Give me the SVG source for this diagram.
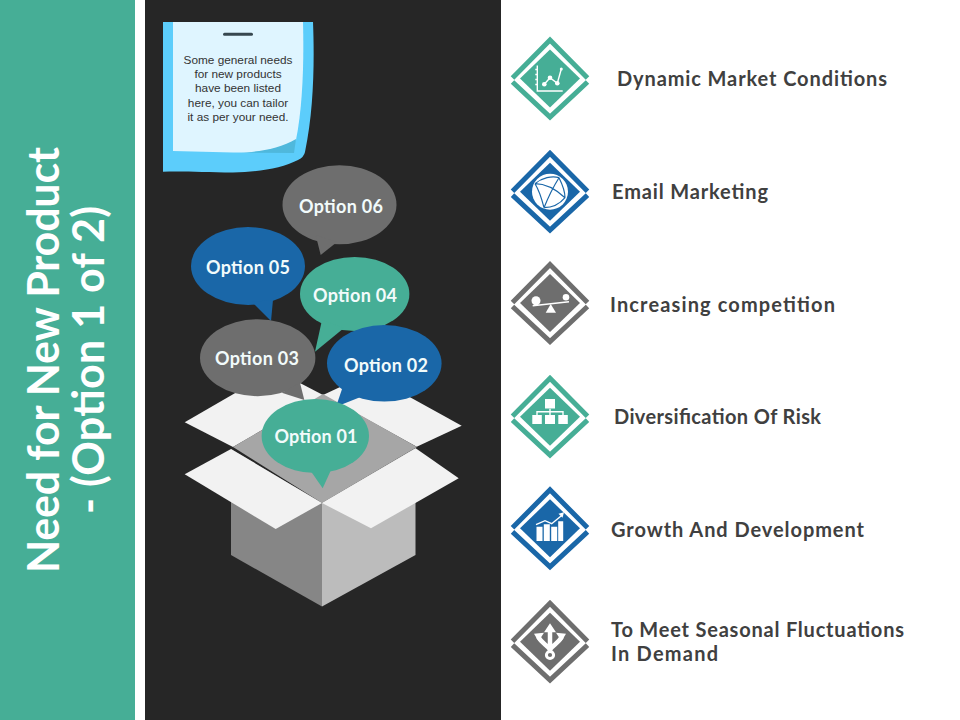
<svg xmlns="http://www.w3.org/2000/svg" xmlns:xlink="http://www.w3.org/1999/xlink" width="960" height="720" viewBox="0 0 960 720">
<style>
.teal{color:#46ae96;fill:#46ae96}
.blue{color:#1a67a8;fill:#1a67a8}
.grey{color:#6e6e6e;fill:#6e6e6e}
.opt{font:bold 18px Lato,"Liberation Sans",sans-serif;fill:#f2fbfb;text-anchor:middle}
.lab{font:bold 20px Lato,"Liberation Sans",sans-serif;fill:#404040}
.title{font:bold 43px Lato,"Liberation Sans",sans-serif;fill:#fff;text-anchor:middle}
.note{font:11.800px "Liberation Sans",Arial,sans-serif;fill:#333;text-anchor:middle}
.ring{fill:none;stroke:currentColor;stroke-width:5}
.wl{fill:none;stroke:#fff;stroke-width:1.400}
.wt{fill:none;stroke:#fff;stroke-width:4.500}
.w{fill:#fff}
.flap{fill:#f2f2f2}
</style>
<defs>
<g id="dia">
<path class="ring" d="M-37.500-.5 0-38.500 37.500-.5"/>
<path class="ring" d="M-37.500 3.500 0 38.500 37.500 3.500"/>
<path d="M0-29 30 0 0 29-30 0Z" fill="currentColor"/>
</g>
</defs>
<rect width="960" height="720" fill="#fff"/>
<rect width="135" height="720" fill="#46ae96"/>
<rect x="145" width="356" height="720" fill="#262626"/>
<g id="title" transform="translate(0,360) rotate(-90)">
<text class="title" x="0" y="59" textLength="426" lengthAdjust="spacing">Need for New Product</text>
<text class="title" x="0" y="104" textLength="308" lengthAdjust="spacing">- (Option 1 of 2)</text>
</g>
<g id="note">
<path d="M163 22H313C314.500 60 314 110 305 152Q304 157 298 160C282 168 260 172 233 172.500C205 172.500 185 171 163 171.700Z" fill="#5ccdfb"/>
<path d="M173 22H303C304 60 303 105 296 140C280 150 255 153 233 152.500L173 151Z" fill="#dff5ff"/>
<path d="M296 139C280 149 255 152.500 240 152.500L294 153Z" fill="#4fb8dc"/>
<rect x="223" y="32.800" width="30" height="3" rx="1.500" fill="#37474f"/>
<text class="note" x="238" y="64">Some general needs</text>
<text class="note" x="238" y="78">for new products</text>
<text class="note" x="238" y="92">have been listed</text>
<text class="note" x="238" y="107">here, you can tailor</text>
<text class="note" x="238" y="121">it as per your need.</text>
</g>
<g id="box">
<path d="M231 449 322 503V606.500L231 555Z" fill="#868686"/>
<path d="M322 503 415.500 448V555L322 606.500Z" fill="#bcbcbc"/>
<path class="flap" d="M184.700 422.300 275 370 323 395 233 447Z"/>
<path class="flap" d="M461.700 425.700 416.700 446.700 323 395 368 374Z"/>
<path d="M233 447 323 394 417 447 322 503Z" fill="#a6a6a6"/>
<path class="flap" d="M184.700 474.300 231 449 322 503 275.700 529Z"/>
<path class="flap" d="M322 503 415.700 448.300 458.700 478.300 371 528.300Z"/>
</g>
<g id="option-06" class="grey"><ellipse cx="339.500" cy="204.700" rx="57" ry="39.500"/><path d="M315.700 235 320.700 255 337 242Z"/><text class="opt" x="341" y="213" textLength="84">Option 06</text></g>
<g id="option-05" class="blue"><ellipse cx="248" cy="266" rx="57" ry="39"/><path d="M252 302 271 321 273 300Z"/><text class="opt" x="248" y="274" textLength="84">Option 05</text></g>
<g id="option-04" class="teal"><ellipse cx="354.700" cy="294" rx="54.700" ry="37"/><path d="M322 320 315 351.700 344 328Z"/><text class="opt" x="355" y="302" textLength="84">Option 04</text></g>
<g id="option-03" class="grey"><ellipse cx="257.700" cy="357.700" rx="57.700" ry="38.500"/><path d="M281.700 392.700 300 382.700 304.300 400Z"/><text class="opt" x="257" y="365" textLength="84">Option 03</text></g>
<g id="option-02" class="blue"><ellipse cx="384.300" cy="363.300" rx="57.300" ry="38.300"/><path d="M342.300 388.300 360 397.300 336 406.700Z"/><text class="opt" x="386" y="372" textLength="84">Option 02</text></g>
<g id="option-01" class="teal"><ellipse cx="315.300" cy="436" rx="53.700" ry="37"/><path d="M310 470 331 470 322.700 488.300Z"/><text class="opt" x="316" y="443" textLength="83">Option 01</text></g>

<g id="item-1" class="teal" transform="translate(550,78.500)">
<use xlink:href="#dia" href="#dia"/>
<path class="wl" d="M-12.700-13V12.500H12.700M-14.700-9H-12.700M-14.700-4H-12.700M-14.700 1H-12.700M-14.700 6H-12.700"/>
<path class="wl" d="M-5.700 5.800 0-.8 7.300 4.800 11.300-9.500"/>
<circle class="w" cx="-5.700" cy="5.800" r="2.300"/><circle class="w" cx="0" cy="-.8" r="2.300"/><circle class="w" cx="7.300" cy="4.800" r="2.300"/><circle class="w" cx="11.300" cy="-9.500" r="1.500"/>
</g>
<text class="lab" x="617" y="86" textLength="270">Dynamic Market Conditions</text>

<g id="item-2" class="blue" transform="translate(550,191.700)">
<use xlink:href="#dia" href="#dia"/>
<circle class="w" r="18"/>
<path d="M-15-8C-8-14 2-16 9-14M-15-8C-10 0-8 8-6 16M-15-8C-6-8 4-4 15 6M9-14C4-6-2 6-6 16M9-14C12-8 15-2 15 6M-6 16C2 16 10 12 15 6" fill="none" stroke="#1a67a8" stroke-width="1.200"/>
</g>
<text class="lab" x="612" y="199" textLength="156">Email Marketing</text>

<g id="item-3" class="grey" transform="translate(550,303)">
<use xlink:href="#dia" href="#dia"/>
<circle class="w" cx="-14" cy="-2.300" r="4.500"/><circle class="w" cx="16" cy="-5.700" r="3.300"/>
<path class="wl" d="M-17.300 2.700 19-1.300"/>
<path class="w" d="M.7 1-4.300 9.700H6Z"/>
</g>
<text class="lab" x="610" y="312" textLength="225">Increasing competition</text>

<g id="item-4" class="teal" transform="translate(550,416.700)">
<use xlink:href="#dia" href="#dia"/>
<rect class="w" x="-5" y="-17.700" width="10" height="9.500"/>
<rect class="w" x="-17.700" y="-1.700" width="9.500" height="9"/><rect class="w" x="-5" y="-1.700" width="10" height="9"/><rect class="w" x="8.300" y="-1.700" width="9.500" height="9"/>
<path class="wl" d="M0-8V-1.700M-13-1.700V-5H13V-1.700"/>
</g>
<text class="lab" x="614" y="424" textLength="207">Diversification Of Risk</text>

<g id="item-5" class="blue" transform="translate(550,528.300)">
<use xlink:href="#dia" href="#dia"/>
<path class="w" d="M-13.500-1.500H-7.500V12.700H-13.500ZM-6.200-4H-.2V12.700H-6.200ZM1.200-1.500H7.200V12.700H1.200ZM8.200-7H13.200V12.700H8.200Z"/>
<path class="wl" d="M-14-3.600-5-7.600 1.700-4.600 12-13"/>
<path class="w" d="M14-16 8.500-14.500 12.500-10.500Z"/>
</g>
<text class="lab" x="611" y="537" textLength="253">Growth And Development</text>

<g id="item-6" class="grey" transform="translate(550,641.700)">
<use xlink:href="#dia" href="#dia"/>
<path class="wt" d="M0 10V-14M-12-5C-8 2-3 3 0 8M12-5C8 2 3 3 0 8"/>
<path class="w" d="M0-18.500 6-9.500H-6ZM-16-8-6-9-11.500-.5ZM16-8 6-9 11.500-.5Z"/>
<circle cx="0" cy="13.300" r="3.600" fill="#6e6e6e" stroke="#fff" stroke-width="3"/>
</g>
<text class="lab" x="611" y="637" textLength="293">To Meet Seasonal Fluctuations</text>
<text class="lab" x="611" y="661" textLength="107">In Demand</text>
</svg>
